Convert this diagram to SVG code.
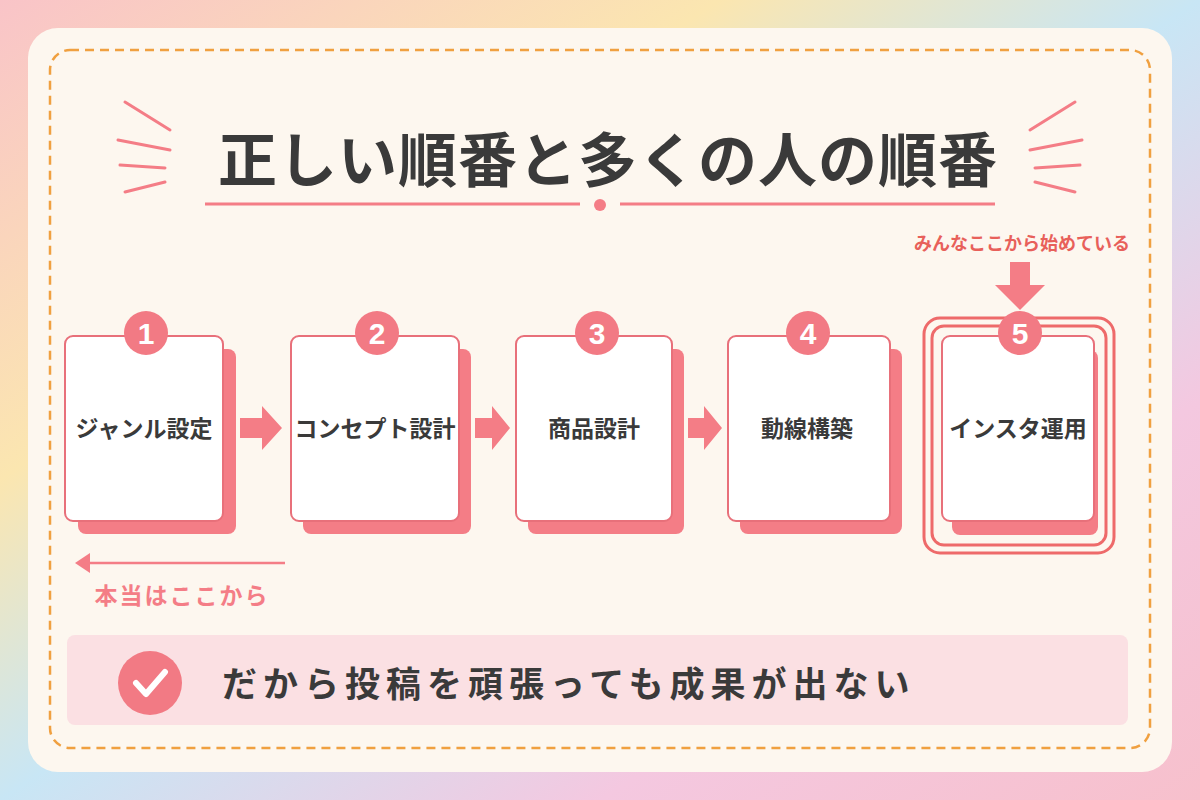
<svg xmlns="http://www.w3.org/2000/svg" width="1200" height="800" viewBox="0 0 1200 800">
<defs>
<linearGradient id="bg" x1="0" y1="0" x2="1" y2="1">
<stop offset="0" stop-color="#f9c4c8"/><stop offset="0.3" stop-color="#fbe6b0"/><stop offset="0.5" stop-color="#c8e6f5"/><stop offset="0.75" stop-color="#f4c8e0"/><stop offset="1" stop-color="#f7c0cc"/>
</linearGradient>
<style>
.card{fill:#fff;stroke:#e8707a;stroke-width:2}
.sh{fill:#f47d86}
.badge{fill:#f27a84}
.num{font-family:"Liberation Sans",sans-serif;font-weight:bold;font-size:30px;fill:#fff;text-anchor:middle}
.lbl{font-family:"Noto Sans CJK JP",sans-serif;font-weight:bold;font-size:23px;fill:#3a3a3a;text-anchor:middle}
.arr{fill:#f47d86}
.ray{stroke:#f47d86;stroke-width:3;stroke-linecap:round}
</style>
</defs>
<rect width="1200" height="800" fill="url(#bg)"/>
<rect x="28" y="28" width="1144" height="744" rx="30" fill="#fdf7ef"/>
<rect x="50" y="50" width="1100" height="698" rx="20" fill="none" stroke="#f0a040" stroke-width="2.5" stroke-dasharray="9 6"/>
<g id="title">
<text x="608" y="182" font-family="Noto Sans CJK JP,sans-serif" font-weight="bold" font-size="59" letter-spacing="1" fill="#3a3a3a" text-anchor="middle">正しい順番と多くの人の順番</text>
<line x1="205" y1="204" x2="580" y2="204" stroke="#f47d86" stroke-width="3"/>
<line x1="620" y1="204" x2="995" y2="204" stroke="#f47d86" stroke-width="3"/>
<circle cx="600" cy="205" r="6" fill="#f47d86"/>
<line class="ray" x1="125" y1="102" x2="170" y2="130"/>
<line class="ray" x1="118" y1="140" x2="170" y2="150"/>
<line class="ray" x1="120" y1="165" x2="165" y2="168"/>
<line class="ray" x1="125" y1="192" x2="165" y2="182"/>
<line class="ray" x1="1075" y1="102" x2="1030" y2="130"/>
<line class="ray" x1="1082" y1="140" x2="1030" y2="150"/>
<line class="ray" x1="1080" y1="165" x2="1035" y2="168"/>
<line class="ray" x1="1075" y1="192" x2="1035" y2="182"/>
</g>
<g id="connectors">
<polygon class="arr" points="240,418 262,418 262,406 282,428 262,450 262,438 240,438"/>
<polygon class="arr" points="475,418 492,418 492,406 510,428 492,450 492,438 475,438"/>
<polygon class="arr" points="688,418 704,418 704,406 722,428 704,450 704,438 688,438"/>
<polygon class="arr" points="1010,262 1030,262 1030,285 1045,285 1020,310 995,285 1010,285" fill="#f26a6a"/>
<line x1="285" y1="563" x2="85" y2="563" stroke="#f47d86" stroke-width="2.5"/>
<polygon points="75,563 90,553 90,573" fill="#f47d86"/>
<text x="182" y="604" font-family="Noto Sans CJK JP,sans-serif" font-weight="bold" font-size="23" letter-spacing="2" fill="#f47d86" text-anchor="middle">本当はここから</text>
<text x="1022" y="250" font-family="Noto Sans CJK JP,sans-serif" font-weight="bold" font-size="18" fill="#e8605a" text-anchor="middle">みんなここから始めている</text>
</g>
<g id="n1"><rect class="sh" x="78" y="349" width="158" height="185" rx="8"/><rect class="card" x="65" y="336" width="158" height="185" rx="8"/><circle class="badge" cx="146" cy="333" r="22"/><text class="num" x="146" y="344">1</text><text class="lbl" x="144" y="437">ジャンル設定</text></g>
<g id="n2"><rect class="sh" x="303" y="349" width="168" height="185" rx="8"/><rect class="card" x="291" y="336" width="168" height="185" rx="8"/><circle class="badge" cx="377" cy="333" r="22"/><text class="num" x="377" y="344">2</text><text class="lbl" x="375" y="437">コンセプト設計</text></g>
<g id="n3"><rect class="sh" x="528" y="349" width="156" height="185" rx="8"/><rect class="card" x="516" y="336" width="156" height="185" rx="8"/><circle class="badge" cx="597" cy="333" r="22"/><text class="num" x="597" y="344">3</text><text class="lbl" x="594" y="437">商品設計</text></g>
<g id="n4"><rect class="sh" x="740" y="349" width="162" height="185" rx="8"/><rect class="card" x="728" y="336" width="162" height="185" rx="8"/><circle class="badge" cx="808" cy="333" r="22"/><text class="num" x="808" y="344">4</text><text class="lbl" x="807" y="437">動線構築</text></g>
<g id="n5"><rect x="924" y="318" width="190" height="235" rx="16" fill="none" stroke="#ee6a6a" stroke-width="3"/><rect x="932" y="326" width="174" height="219" rx="12" fill="none" stroke="#ee6a6a" stroke-width="3"/><rect class="sh" x="952" y="350" width="146" height="185" rx="8"/><rect class="card" x="942" y="336" width="152" height="185" rx="8"/><circle class="badge" cx="1020" cy="333" r="22"/><text class="num" x="1020" y="344">5</text><text class="lbl" x="1018" y="437">インスタ運用</text></g>
<g id="banner">
<rect x="67" y="635" width="1061" height="90" rx="8" fill="#fbe0e3"/>
<circle cx="150" cy="683" r="32" fill="#f27a84"/>
<polyline points="136,683 146,694 165,672" fill="none" stroke="#fff" stroke-width="6" stroke-linecap="round" stroke-linejoin="round"/>
<text x="222" y="697" font-family="Noto Sans CJK JP,sans-serif" font-weight="bold" font-size="35" fill="#3a3a3a" letter-spacing="6">だから投稿を頑張っても成果が出ない</text>
</g>
</svg>
